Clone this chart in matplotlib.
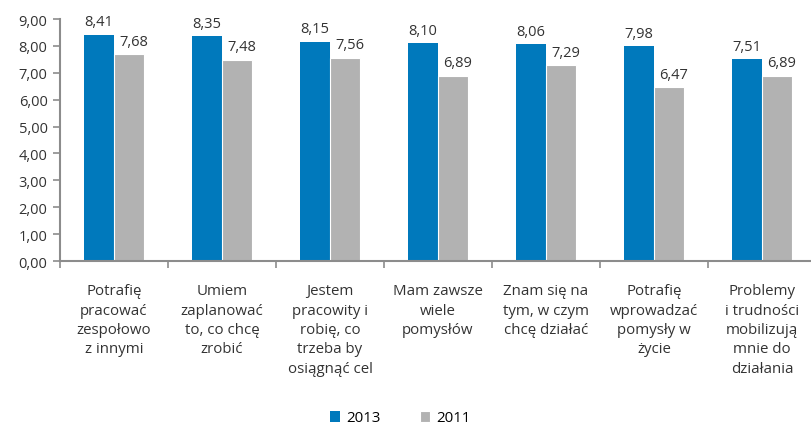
import numpy as np
import matplotlib.pyplot as plt

plt.rcParams['font.family'] = ['Open Sans', 'DejaVu Sans']

kategorie = [
    "Potrafię\npracować\nzespołowo\nz innymi",
    "Umiem\nzaplanować\nto, co chcę\nzrobić",
    "Jestem\npracowity i\nrobię, co\ntrzeba by\nosiągnąć cel",
    "Mam zawsze\nwiele\npomysłów",
    "Znam się na\ntym, w czym\nchcę działać",
    "Potrafię\nwprowadzać\npomysły w\nżycie",
    "Problemy\ni trudności\nmobilizują\nmnie do\ndziałania",
]
v2013 = [8.41, 8.35, 8.15, 8.10, 8.06, 7.98, 7.51]
v2011 = [7.68, 7.48, 7.56, 6.89, 7.29, 6.47, 6.89]

niebieski = '#0079bc'
szary = '#b2b2b2'
os_kolor = '#8c8c8c'

fig = plt.figure(figsize=(8.12, 4.27), dpi=100)
ax = fig.add_axes([60/812, 165/427, 756/812, 242/427])

x = np.arange(len(kategorie))
w = 0.28
b1 = ax.bar(x - w/2, v2013, w, color=niebieski, label='2013')
b2 = ax.bar(x + w/2, v2011, w, color=szary, edgecolor='white', linewidth=0.8, label='2011')

for xi, v in zip(x, v2013):
    ax.text(xi - w/2, v + 0.2, f"{v:.2f}".replace('.', ','), ha='center', va='bottom', fontsize=10.5, color='#333333')
for xi, v in zip(x, v2011):
    ax.text(xi + w/2 + 0.04, v + 0.2, f"{v:.2f}".replace('.', ','), ha='center', va='bottom', fontsize=10.5, color='#333333')

ax.set_xlim(-0.5, len(kategorie) - 0.5)
ax.set_ylim(0, 9)
ax.set_yticks(np.arange(0, 10, 1))
ax.set_yticklabels([f"{t:.2f}".replace('.', ',') for t in range(10)], fontsize=10.5, color='#333333')

ax.set_xticks(x)
ax.set_xticklabels(kategorie, fontsize=10.8, color='#333333', linespacing=1.4, va='top')
ax.tick_params(axis='x', which='major', length=0, pad=16)
ax.set_xticks(np.arange(-0.5, len(kategorie), 1), minor=True)
ax.tick_params(axis='x', which='minor', length=5, color=os_kolor, width=1.2)
ax.tick_params(axis='y', length=5, color=os_kolor, width=1.2, pad=4)

for s in ['top', 'right']:
    ax.spines[s].set_visible(False)
for s in ['left', 'bottom']:
    ax.spines[s].set_color(os_kolor)
    ax.spines[s].set_linewidth(1.5)

fig.legend(handles=[b1, b2], loc='center', bbox_to_anchor=(400/812, 1 - 419/427), ncol=2,
           frameon=False, fontsize=10.8, handlelength=0.7, handleheight=0.7,
           columnspacing=2.6, handletextpad=0.4)

fig.savefig('out.png', dpi=100)
